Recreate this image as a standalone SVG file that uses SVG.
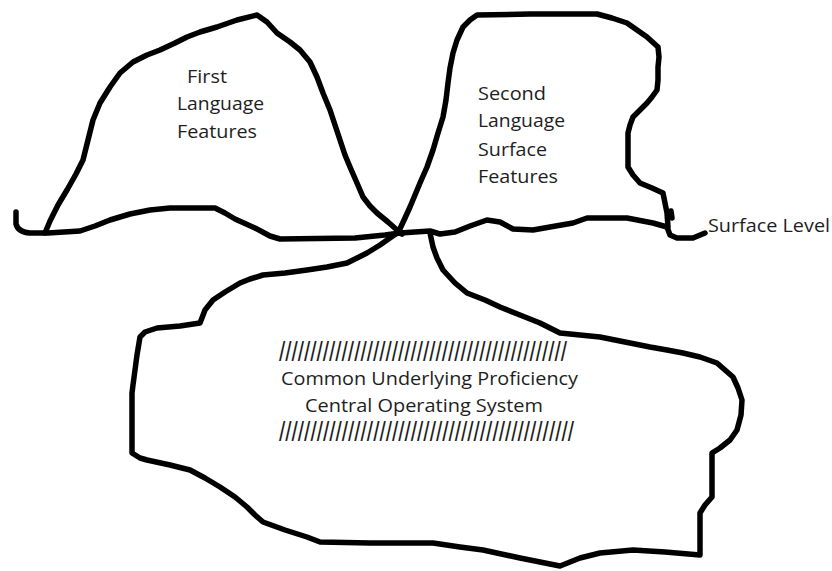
<svg xmlns="http://www.w3.org/2000/svg" width="832" height="571" viewBox="0 0 832 571">
  <style>
    .stroke { fill: none; stroke: #000; stroke-width: 5.5; stroke-linejoin: round; stroke-linecap: round; }
    .label { font-family: "Open Sans", "Liberation Sans", sans-serif; font-size: 18px; font-weight: 500; fill: #1e1e1e; }
    .hatch { font-family: "Liberation Sans", "DejaVu Sans", sans-serif; font-size: 27px; fill: #1e1e1e; }
  </style>
  <rect width="832" height="571" fill="#fff"/>

  <!-- surface level line -->
  <g id="connectors">
    <path class="stroke" d="M 16,212 L 16,224 Q 18,232 30,233 L 48,233 L 80,231 L 95,226 L 110,220 L 130,214 L 150,210 L 170,208 L 215,208 L 225,213 L 235,219 L 255,228 L 270,236 L 280,239 L 355,238 L 385,235 L 400,233 L 430,231 L 440,234 L 455,232 L 470,226 L 487,220 L 500,222 L 513,229 L 533,230 L 550,227 L 573,223 L 587,218 L 627,218 L 653,223 L 667,227 L 670,235 L 677,238 L 693,238 L 705,233"/>
  </g>

  <!-- first language peak -->
  <g id="first-language">
    <path class="stroke" d="M 45,233 L 50,221 L 58,205 L 67,190 L 76,174 L 83,160 L 88,140 L 93,120 L 100,103 L 110,87 L 120,73 L 133,62 L 147,55 L 160,50 L 175,43 L 187,37 L 200,32 L 217,27 L 237,20 L 257,15 L 267,22 L 277,33 L 290,42 L 300,50 L 310,62 L 317,77 L 323,93 L 330,110 L 335,125 L 340,140 L 345,155 L 350,167 L 357,183 L 363,197 L 370,206 L 377,213 L 388,222 L 397,230 L 402,234"/>
    <text class="label" x="187" y="83" textLength="40" lengthAdjust="spacingAndGlyphs">First</text>
    <text class="label" x="177" y="110" textLength="87" lengthAdjust="spacingAndGlyphs">Language</text>
    <text class="label" x="177" y="138" textLength="80" lengthAdjust="spacingAndGlyphs">Features</text>
  </g>

  <!-- second language peak -->
  <g id="second-language">
    <path class="stroke" d="M 398,233 L 405,218 L 410,207 L 415,195 L 420,183 L 427,167 L 433,150 L 438,133 L 443,117 L 446,100 L 448,83 L 450,68 L 453,53 L 457,40 L 463,27 L 470,20 L 477,15 L 530,14 L 597,14 L 612,18 L 627,23 L 637,30 L 647,37 L 658,47 L 659,57 L 658,67 L 658,80 L 657,90 L 652,97 L 647,103 L 640,110 L 633,117 L 630,125 L 628,133 L 628,150 L 628,167 L 633,175 L 640,183 L 652,188 L 663,193 L 665,203 L 667,213 L 668,227"/>
    <path class="stroke" d="M 671,211 L 672,218"/>
    <text class="label" x="478" y="100" textLength="68" lengthAdjust="spacingAndGlyphs">Second</text>
    <text class="label" x="478" y="127" textLength="87" lengthAdjust="spacingAndGlyphs">Language</text>
    <text class="label" x="478" y="156" textLength="69" lengthAdjust="spacingAndGlyphs">Surface</text>
    <text class="label" x="478" y="183" textLength="80" lengthAdjust="spacingAndGlyphs">Features</text>
  </g>

  <g id="surface-level">
    <text class="label" x="708" y="232" textLength="122" lengthAdjust="spacingAndGlyphs">Surface Level</text>
  </g>

  <!-- common underlying proficiency -->
  <g id="common-underlying-proficiency">
    <path class="stroke" d="M 397,233 L 380,245 L 367,253 L 347,263 L 327,267 L 307,270 L 285,273 L 263,275 L 250,279 L 240,283 L 225,292 L 213,300 L 205,310 L 200,323 L 180,326 L 157,328 L 145,332 L 140,337 L 137,355 L 135,370 L 133,385 L 132,393 L 132,420 L 132,453 L 140,458 L 147,460 L 170,465 L 190,470 L 205,478 L 220,487 L 235,497 L 247,507 L 255,515 L 263,522 L 285,530 L 307,537 L 320,542 L 370,543 L 433,543 L 460,547 L 483,550 L 520,558 L 545,563 L 560,566 L 580,558 L 600,553 L 633,550 L 665,552 L 700,555 L 700,535 L 700,513 L 705,505 L 712,497 L 712,475 L 712,453 L 720,448 L 730,440 L 737,430 L 741,415 L 742,400 L 738,388 L 733,377 L 725,370 L 717,363 L 700,357 L 683,353 L 667,350 L 650,347 L 625,342 L 600,337 L 580,335 L 560,333 L 550,328 L 540,323 L 520,315 L 500,307 L 485,300 L 467,293 L 455,283 L 443,270 L 437,258 L 433,247 L 430,233"/>
    <text class="hatch" x="279" y="361" textLength="288" lengthAdjust="spacingAndGlyphs">//////////////////////////////////////////////</text>
    <text class="label" x="281" y="385" textLength="297" lengthAdjust="spacingAndGlyphs">Common Underlying Proficiency</text>
    <text class="label" x="305" y="412" textLength="238" lengthAdjust="spacingAndGlyphs">Central Operating System</text>
    <text class="hatch" x="279" y="441" textLength="295" lengthAdjust="spacingAndGlyphs">///////////////////////////////////////////////</text>
  </g>
</svg>
